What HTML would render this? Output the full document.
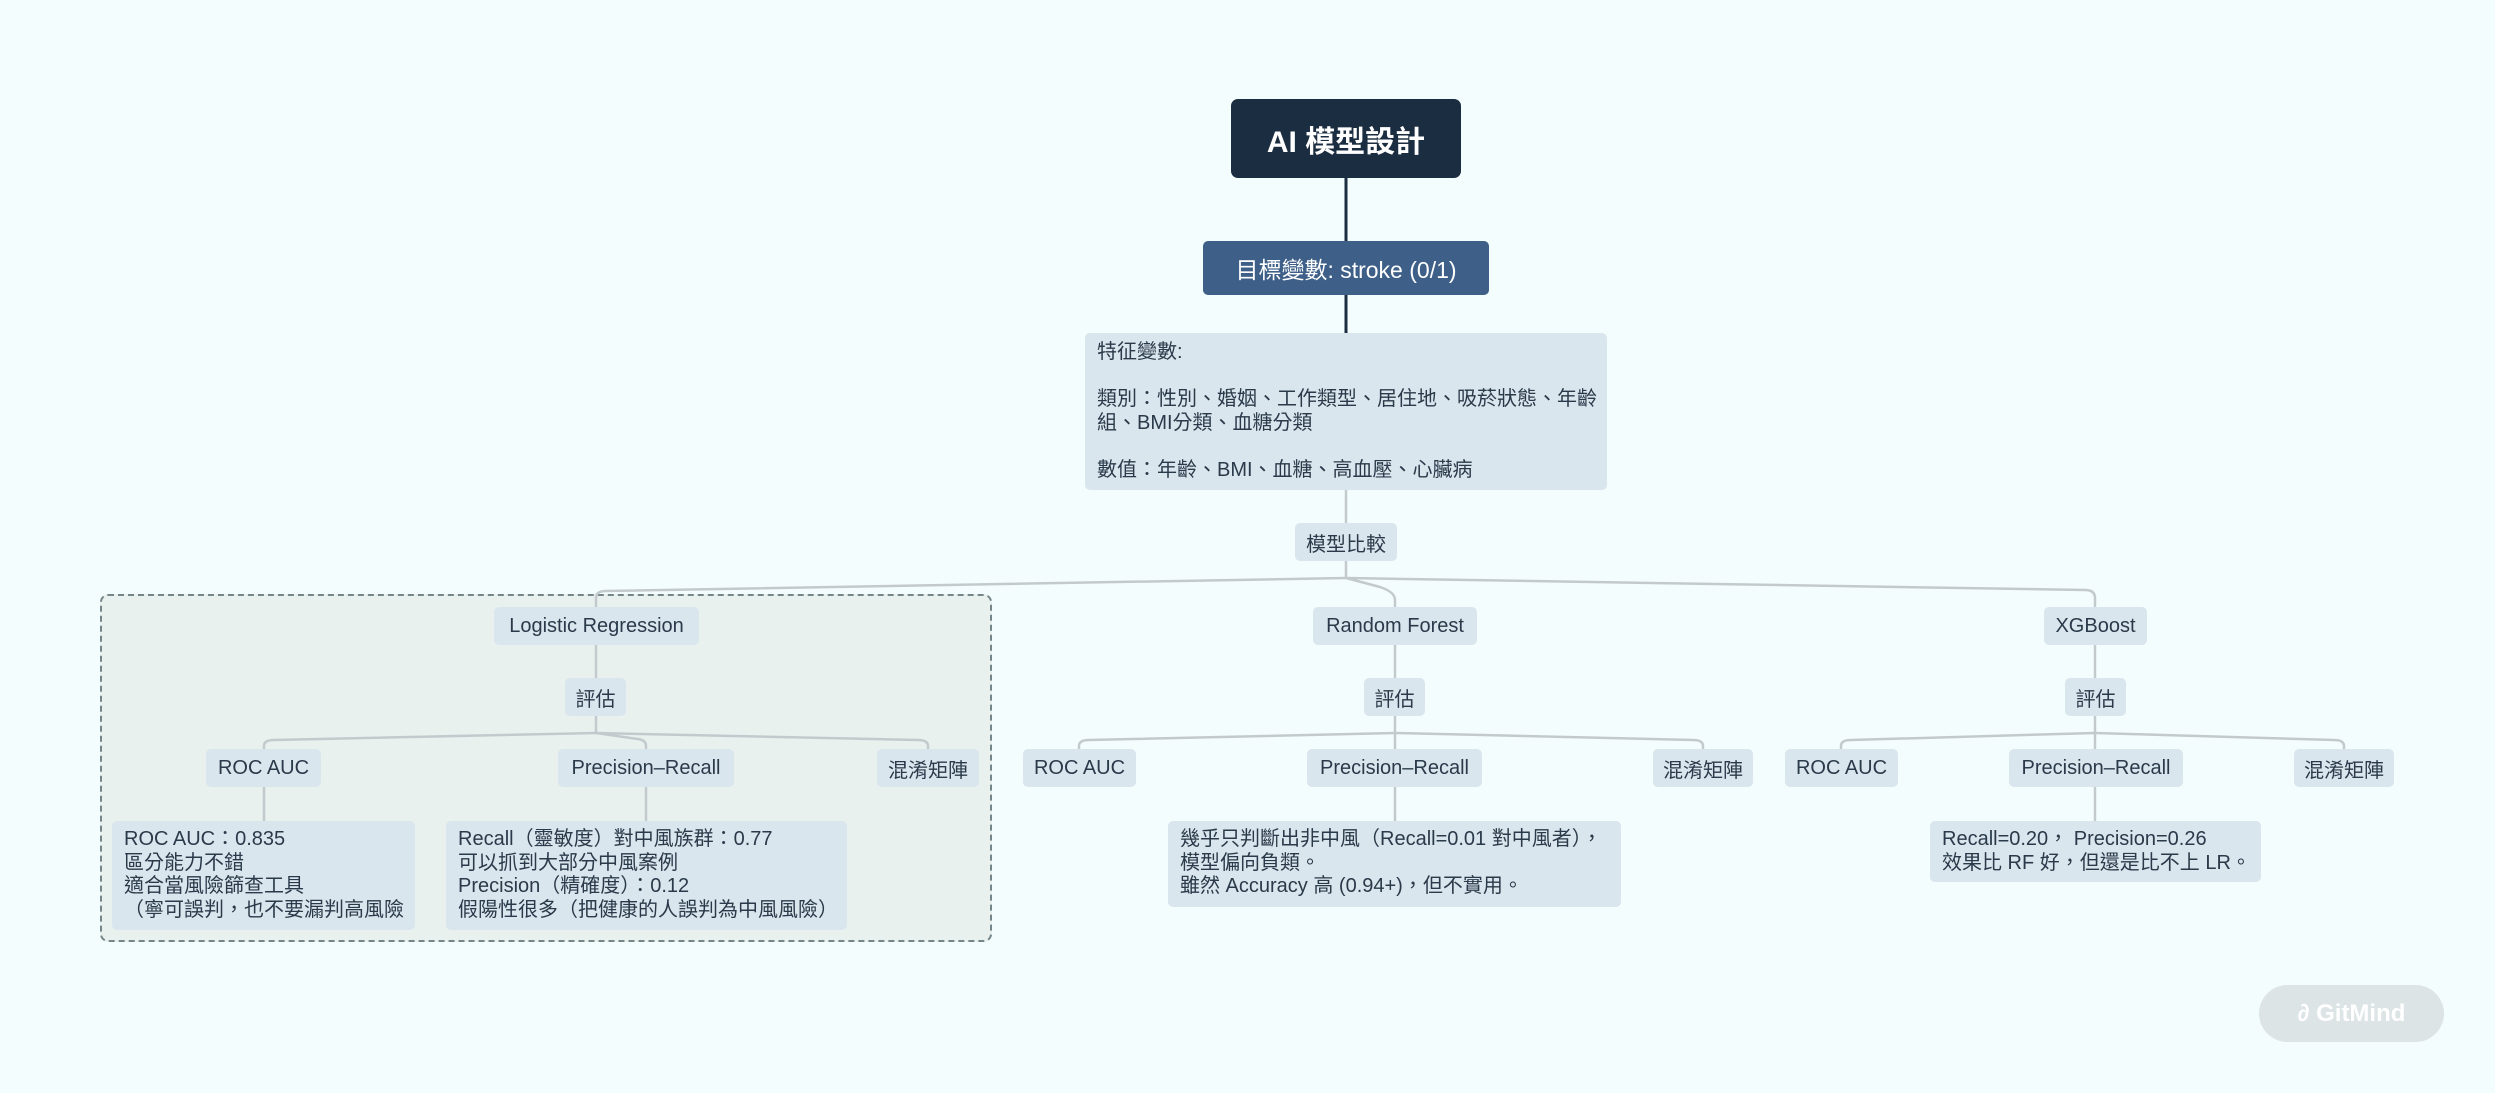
<!DOCTYPE html>
<html><head><meta charset="utf-8"><style>
html,body{margin:0;padding:0}
body{width:2495px;height:1093px;background:#f4fdfd;position:relative;overflow:hidden;font-family:"Liberation Sans","Noto Sans CJK TC",sans-serif;color:#2a3a4a}
.n{position:absolute;box-sizing:border-box;background:#dae6ed;border-radius:5px;display:flex;align-items:center;justify-content:center;font-size:20px;white-space:nowrap}
.d{position:absolute;box-sizing:border-box;background:#dae6ed;border-radius:5px;font-size:20px;line-height:23.5px;white-space:nowrap;padding:0 0 0 12px}
</style></head><body>
<div style="position:absolute;left:100px;top:594px;width:892px;height:348px;box-sizing:border-box;border:2.5px dashed #74868a;border-radius:8px;background:#e9f1ef"></div>
<svg width="2495" height="1093" style="position:absolute;left:0;top:0">
<g fill="none" stroke-linecap="round">
<path d="M1346 178 V333" stroke="#1b2d40" stroke-width="3"/>
<g stroke="#c3cacd" stroke-width="2.5">
<path d="M1346 490 V578"/>
<path d="M1346 578 L606 591 Q596 591 596 598 V607"/>
<path d="M1346 578 L1380 587 Q1395 592 1395 600 V607"/>
<path d="M1346 578 L2085 590 Q2095 590 2095 598 V607"/>
<path d="M596 645 V678 M596 716 V733"/>
<path d="M596 733 L274 740 Q264 740 264 746 V749"/>
<path d="M596 733 L638 739 Q646 740 646 746 V749"/>
<path d="M596 733 L918 740 Q928 740 928 746 V749"/>
<path d="M1395 645 V678 M1395 716 V749"/>
<path d="M1395 733 L1089 740 Q1079 740 1079 746 V749"/>
<path d="M1395 733 L1693 740 Q1703 740 1703 746 V749"/>
<path d="M2095 645 V678 M2095 716 V749"/>
<path d="M2095 733 L1851 740 Q1841 740 1841 746 V749"/>
<path d="M2095 733 L2334 740 Q2344 740 2344 746 V749"/>
<path d="M264 787 V821 M646 787 V821 M1395 787 V821 M2095 787 V821"/>
</g></g></svg>
<div class="n" style="left:1231px;top:99px;width:230px;height:79px;background:#1b2d40;color:#fff;font-size:30px;font-weight:bold;border-radius:7px">AI 模型設計</div>
<div class="n" style="left:1203px;top:241px;width:286px;height:54px;background:#3e6088;color:#fff;font-size:23px">目標變數: stroke (0/1)</div>
<div class="d" style="left:1085px;top:333px;width:522px;height:157px;font-size:20px;padding-top:8px">特征變數:<br><br>類別：性別、婚姻、工作類型、居住地、吸菸狀態、年齡<br>組、BMI分類、血糖分類<br><br>數值：年齡、BMI、血糖、高血壓、心臟病</div>
<div class="n" style="left:1295px;top:523px;width:102px;height:38px">模型比較</div>
<div class="n" style="left:494px;top:607px;width:205px;height:38px">Logistic Regression</div>
<div class="n" style="left:1313px;top:607px;width:164px;height:38px">Random Forest</div>
<div class="n" style="left:2044px;top:607px;width:103px;height:38px">XGBoost</div>
<div class="n" style="left:565px;top:678px;width:61px;height:38px">評估</div>
<div class="n" style="left:1364px;top:678px;width:61px;height:38px">評估</div>
<div class="n" style="left:2065px;top:678px;width:61px;height:38px">評估</div>
<div class="n" style="left:206px;top:749px;width:115px;height:38px">ROC AUC</div>
<div class="n" style="left:558px;top:749px;width:176px;height:38px">Precision–Recall</div>
<div class="n" style="left:877px;top:749px;width:102px;height:38px">混淆矩陣</div>
<div class="n" style="left:1023px;top:749px;width:113px;height:38px">ROC AUC</div>
<div class="n" style="left:1307px;top:749px;width:175px;height:38px">Precision–Recall</div>
<div class="n" style="left:1653px;top:749px;width:100px;height:38px">混淆矩陣</div>
<div class="n" style="left:1785px;top:749px;width:113px;height:38px">ROC AUC</div>
<div class="n" style="left:2009px;top:749px;width:174px;height:38px">Precision–Recall</div>
<div class="n" style="left:2294px;top:749px;width:100px;height:38px">混淆矩陣</div>
<div class="d" style="left:112px;top:821px;width:303px;height:109px;padding-top:7px;overflow:hidden">ROC AUC：0.835<br>區分能力不錯<br>適合當風險篩查工具<br>（寧可誤判，也不要漏判高風險</div>
<div class="d" style="left:446px;top:821px;width:401px;height:109px;padding-top:7px">Recall（靈敏度）對中風族群：0.77<br>可以抓到大部分中風案例<br>Precision（精確度）：0.12<br>假陽性很多（把健康的人誤判為中風風險）</div>
<div class="d" style="left:1168px;top:821px;width:453px;height:86px;padding-top:7px">幾乎只判斷出非中風（Recall=0.01 對中風者），<br>模型偏向負類。<br>雖然 Accuracy 高 (0.94+)，但不實用。</div>
<div class="d" style="left:1930px;top:821px;width:331px;height:61px;padding-top:7px">Recall=0.20， Precision=0.26<br>效果比 RF 好，但還是比不上 LR。</div>
<div class="n" style="left:2259px;top:985px;width:185px;height:57px;border-radius:29px;background:#dde4e6;color:#fff;font-size:24px;font-weight:bold">∂ GitMind</div>
</body></html>
